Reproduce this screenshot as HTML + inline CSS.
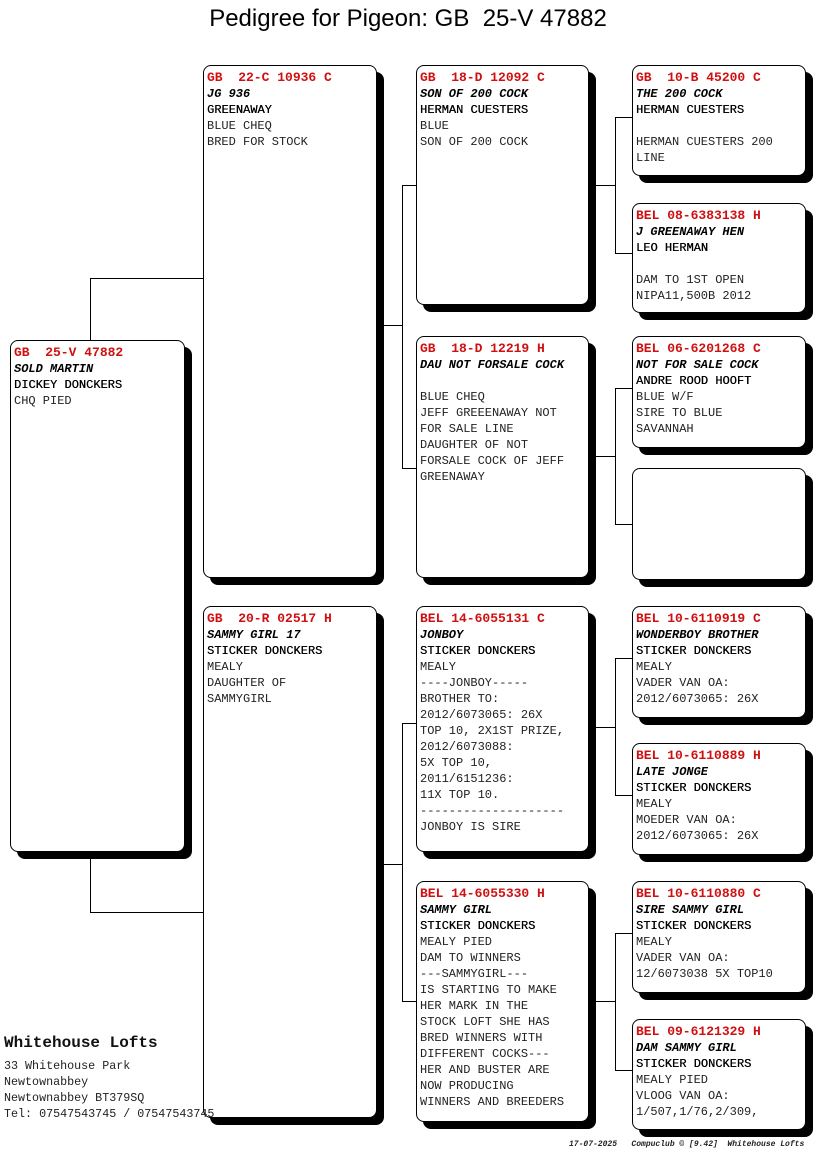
<!DOCTYPE html>
<html><head><meta charset="utf-8"><style>
*{margin:0;padding:0;box-sizing:border-box}
body{width:816px;height:1172px;background:#fff;position:relative;overflow:hidden;font-family:"Liberation Mono",monospace}
.t{position:absolute;left:0;width:816px;top:5px;text-align:center;font-family:"Liberation Sans",sans-serif;font-size:24px;color:#000}
.b{position:absolute;border:1px solid #000;border-radius:8px;background:#fff;box-shadow:7px 7px 0 #000;padding:3px 0 0 3px;font-size:12px;line-height:16px;color:#222;white-space:pre}
.h{color:#d01010;font-weight:bold;font-size:13px;line-height:17px}
.n{font-style:italic;font-weight:bold;color:#000}
.o{color:#000;text-shadow:0.3px 0 0 #000}
.l{position:absolute;background:#000}
.f{position:absolute;font-family:"Liberation Mono",monospace}
</style></head><body>
<div class="t">Pedigree for Pigeon: GB&nbsp; 25-V 47882</div>

<div class="l" style="left:90px;top:278px;width:1px;height:62px"></div>
<div class="l" style="left:90px;top:278px;width:113px;height:1px"></div>
<div class="l" style="left:90px;top:858px;width:1px;height:54px"></div>
<div class="l" style="left:90px;top:912px;width:113px;height:1px"></div>

<div class="l" style="left:402px;top:185px;width:1px;height:283px"></div>
<div class="l" style="left:402px;top:185px;width:14px;height:1px"></div>
<div class="l" style="left:402px;top:468px;width:14px;height:1px"></div>
<div class="l" style="left:383px;top:325px;width:19px;height:1px"></div>

<div class="l" style="left:402px;top:723px;width:1px;height:278px"></div>
<div class="l" style="left:402px;top:723px;width:14px;height:1px"></div>
<div class="l" style="left:402px;top:1001px;width:14px;height:1px"></div>
<div class="l" style="left:383px;top:864px;width:19px;height:1px"></div>

<div class="l" style="left:615px;top:117px;width:1px;height:136px"></div>
<div class="l" style="left:615px;top:117px;width:17px;height:1px"></div>
<div class="l" style="left:615px;top:253px;width:17px;height:1px"></div>
<div class="l" style="left:595px;top:185px;width:20px;height:1px"></div>

<div class="l" style="left:615px;top:388px;width:1px;height:136px"></div>
<div class="l" style="left:615px;top:388px;width:17px;height:1px"></div>
<div class="l" style="left:615px;top:524px;width:17px;height:1px"></div>
<div class="l" style="left:595px;top:456px;width:20px;height:1px"></div>

<div class="l" style="left:615px;top:658px;width:1px;height:137px"></div>
<div class="l" style="left:615px;top:658px;width:17px;height:1px"></div>
<div class="l" style="left:615px;top:795px;width:17px;height:1px"></div>
<div class="l" style="left:595px;top:727px;width:20px;height:1px"></div>

<div class="l" style="left:615px;top:933px;width:1px;height:137px"></div>
<div class="l" style="left:615px;top:933px;width:17px;height:1px"></div>
<div class="l" style="left:615px;top:1070px;width:17px;height:1px"></div>
<div class="l" style="left:595px;top:1001px;width:20px;height:1px"></div>

<div class="b" style="left:10px;top:340px;width:175px;height:512px"><div class="h">GB  25-V 47882</div><div class="n">SOLD MARTIN</div><div class="o">DICKEY DONCKERS</div><div>CHQ PIED</div></div>

<div class="b" style="left:203px;top:65px;width:174px;height:513px"><div class="h">GB  22-C 10936 C</div><div class="n">JG 936</div><div class="o">GREENAWAY</div><div>BLUE CHEQ</div><div>BRED FOR STOCK</div></div>
<div class="b" style="left:203px;top:606px;width:174px;height:512px"><div class="h">GB  20-R 02517 H</div><div class="n">SAMMY GIRL 17</div><div class="o">STICKER DONCKERS</div><div>MEALY</div><div>DAUGHTER OF</div><div>SAMMYGIRL</div></div>

<div class="b" style="left:416px;top:65px;width:173px;height:240px"><div class="h">GB  18-D 12092 C</div><div class="n">SON OF 200 COCK</div><div class="o">HERMAN CUESTERS</div><div>BLUE</div><div>SON OF 200 COCK</div></div>
<div class="b" style="left:416px;top:336px;width:173px;height:242px"><div class="h">GB  18-D 12219 H</div><div class="n">DAU NOT FORSALE COCK</div><div> </div><div>BLUE CHEQ</div><div>JEFF GREEENAWAY NOT</div><div>FOR SALE LINE</div><div>DAUGHTER OF NOT</div><div>FORSALE COCK OF JEFF</div><div>GREENAWAY</div></div>
<div class="b" style="left:416px;top:606px;width:173px;height:246px"><div class="h">BEL 14-6055131 C</div><div class="n">JONBOY</div><div class="o">STICKER DONCKERS</div><div>MEALY</div><div>----JONBOY-----</div><div>BROTHER TO:</div><div>2012/6073065: 26X</div><div>TOP 10, 2X1ST PRIZE,</div><div>2012/6073088:</div><div>5X TOP 10,</div><div>2011/6151236:</div><div>11X TOP 10.</div><div>--------------------</div><div>JONBOY IS SIRE</div></div>
<div class="b" style="left:416px;top:881px;width:173px;height:241px"><div class="h">BEL 14-6055330 H</div><div class="n">SAMMY GIRL</div><div class="o">STICKER DONCKERS</div><div>MEALY PIED</div><div>DAM TO WINNERS</div><div>---SAMMYGIRL---</div><div>IS STARTING TO MAKE</div><div>HER MARK IN THE</div><div>STOCK LOFT SHE HAS</div><div>BRED WINNERS WITH</div><div>DIFFERENT COCKS---</div><div>HER AND BUSTER ARE</div><div>NOW PRODUCING</div><div>WINNERS AND BREEDERS</div></div>

<div class="b" style="left:632px;top:65px;width:174px;height:111px"><div class="h">GB  10-B 45200 C</div><div class="n">THE 200 COCK</div><div class="o">HERMAN CUESTERS</div><div> </div><div>HERMAN CUESTERS 200</div><div>LINE</div></div>
<div class="b" style="left:632px;top:203px;width:174px;height:110px"><div class="h">BEL 08-6383138 H</div><div class="n">J GREENAWAY HEN</div><div class="o">LEO HERMAN</div><div> </div><div>DAM TO 1ST OPEN</div><div>NIPA11,500B 2012</div></div>
<div class="b" style="left:632px;top:336px;width:174px;height:112px"><div class="h">BEL 06-6201268 C</div><div class="n">NOT FOR SALE COCK</div><div class="o">ANDRE ROOD HOOFT</div><div>BLUE W/F</div><div>SIRE TO BLUE</div><div>SAVANNAH</div></div>
<div class="b" style="left:632px;top:468px;width:174px;height:112px"></div>
<div class="b" style="left:632px;top:606px;width:174px;height:112px"><div class="h">BEL 10-6110919 C</div><div class="n">WONDERBOY BROTHER</div><div class="o">STICKER DONCKERS</div><div>MEALY</div><div>VADER VAN OA:</div><div>2012/6073065: 26X</div></div>
<div class="b" style="left:632px;top:743px;width:174px;height:112px"><div class="h">BEL 10-6110889 H</div><div class="n">LATE JONGE</div><div class="o">STICKER DONCKERS</div><div>MEALY</div><div>MOEDER VAN OA:</div><div>2012/6073065: 26X</div></div>
<div class="b" style="left:632px;top:881px;width:174px;height:112px"><div class="h">BEL 10-6110880 C</div><div class="n">SIRE SAMMY GIRL</div><div class="o">STICKER DONCKERS</div><div>MEALY</div><div>VADER VAN OA:</div><div>12/6073038 5X TOP10</div></div>
<div class="b" style="left:632px;top:1019px;width:174px;height:111px"><div class="h">BEL 09-6121329 H</div><div class="n">DAM SAMMY GIRL</div><div class="o">STICKER DONCKERS</div><div>MEALY PIED</div><div>VLOOG VAN OA:</div><div>1/507,1/76,2/309,</div></div>

<div class="f" style="left:4px;top:1034px;font-size:16px;font-weight:bold;color:#111">Whitehouse Lofts</div>
<div class="f" style="left:4px;top:1058px;font-size:11.7px;line-height:16px;color:#222;white-space:pre">33 Whitehouse Park
Newtownabbey
Newtownabbey BT379SQ
Tel: 07547543745 / 07547543745</div>
<div class="f" style="left:569px;top:1140px;font-size:8px;font-style:italic;font-weight:bold;color:#222;white-space:pre">17-07-2025   Compuclub © [9.42]  Whitehouse Lofts</div>
</body></html>
